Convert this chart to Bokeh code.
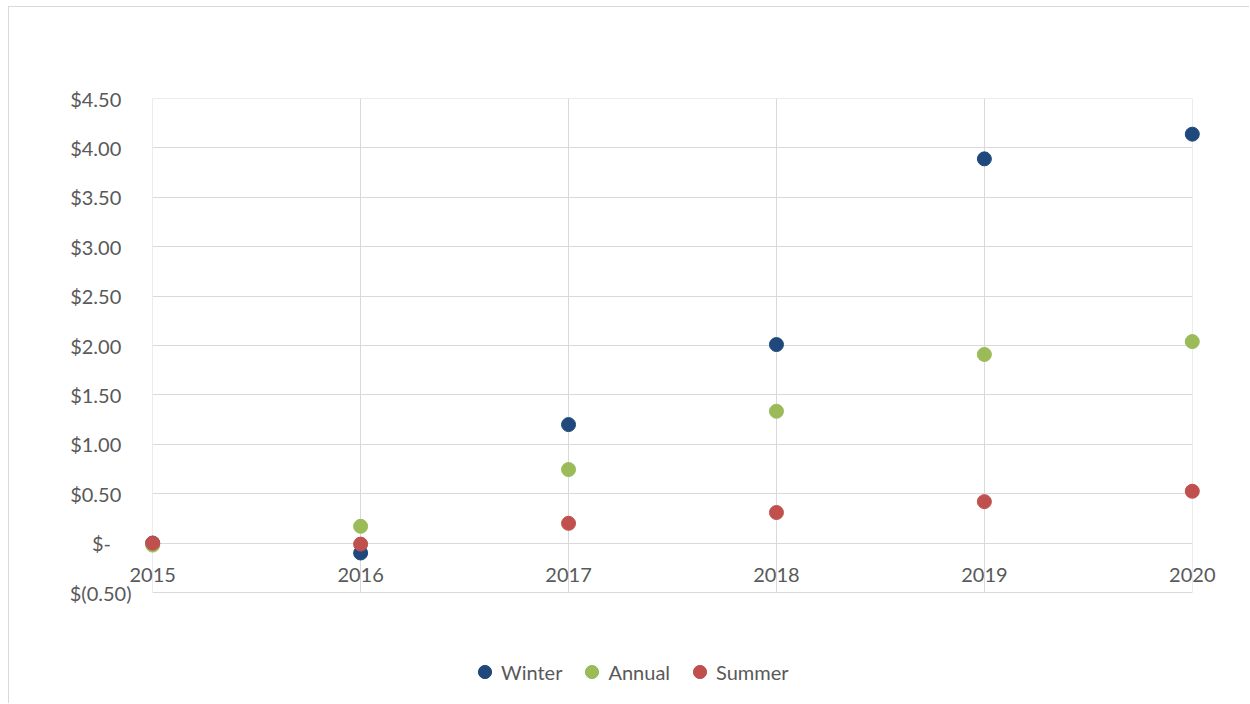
from bokeh.plotting import figure
from bokeh.models import Range1d, FixedTicker, ColumnDataSource, Legend, LegendItem
from bokeh.core.properties import value
from bokeh.embed import file_html
from bokeh.resources import INLINE

# ---- data ----
years = [2015, 2016, 2017, 2018, 2019, 2020]
x_tick_labels = ["2015", "2016", "2017", "2018", "2019", "2020"]
winter = [0.00, -0.10, 1.20, 2.01, 3.89, 4.14]
annual = [-0.02, 0.17, 0.745, 1.335, 1.91, 2.04]
summer = [0.00, -0.01, 0.20, 0.31, 0.42, 0.525]
y_ticks = [-0.5, 0.0, 0.5, 1.0, 1.5, 2.0, 2.5, 3.0, 3.5, 4.0, 4.5]
y_tick_labels = ["$(0.50)", "$-\u00a0\u00a0\u00a0\u00a0", "$0.50\u00a0\u00a0", "$1.00\u00a0\u00a0",
                 "$1.50\u00a0\u00a0", "$2.00\u00a0\u00a0", "$2.50\u00a0\u00a0", "$3.00\u00a0\u00a0",
                 "$3.50\u00a0\u00a0", "$4.00\u00a0\u00a0", "$4.50\u00a0\u00a0"]
series_names = ["Winter", "Annual", "Summer"]
series_colors = ["#1F497D", "#9BBB59", "#C0504D"]

FONT = "Lato"
TXT = "#595959"
GRID = "#d9d9d9"

# frame runs to the bottom of the canvas so the legend can sit inside it;
# vertical grid lines are bounded to the data area (-0.5 .. 4.5)
Y_LOW = -0.5 - 112 / 98.8
EPS = 0.001

p = figure(width=1241, height=697, output_backend="svg", toolbar_location=None,
           x_range=Range1d(2015 - EPS, 2020 + EPS), y_range=Range1d(Y_LOW, 4.5 + EPS),
           x_axis_location=None,
           min_border_left=143, min_border_right=58, min_border_top=91, min_border_bottom=0,
           background_fill_color="white", border_fill_color="white")
p.styles = {"margin-left": "8px", "margin-top": "6px",
            "border-left": "1px solid #d9d9d9", "border-top": "1px solid #d9d9d9"}
p.outline_line_color = None

p.xgrid.ticker = FixedTicker(ticks=years)
p.xgrid.cross_bounds = (y_ticks[0], y_ticks[-1])
p.ygrid.ticker = FixedTicker(ticks=y_ticks)
p.ygrid.cross_bounds = (years[0], years[-1])
p.xgrid.grid_line_color = GRID
p.ygrid.grid_line_color = GRID
p.xgrid.grid_line_width = 1
p.ygrid.grid_line_width = 1

ya = p.yaxis[0]
ya.ticker = FixedTicker(ticks=y_ticks)
ya.major_label_overrides = {t: l for t, l in zip(y_ticks, y_tick_labels)}
ya.axis_line_color = None
ya.major_tick_line_color = None
ya.minor_tick_line_color = None
ya.major_label_standoff = 15
ya.major_label_text_font = FONT
ya.major_label_text_font_size = "20px"
ya.major_label_text_color = TXT

renderers = []
for name, vals, col in zip(series_names, [winter, annual, summer], series_colors):
    src = ColumnDataSource(dict(x=years, y=vals))
    r = p.scatter("x", "y", source=src, size=14, fill_color=col, line_color=col, level="overlay")
    renderers.append(r)

lab_src = ColumnDataSource(dict(x=years, y=[0] * len(years), t=x_tick_labels))
p.text("x", "y", text="t", source=lab_src, text_align="center", text_baseline="middle",
       y_offset=32, text_font=value(FONT), text_font_size="20px", text_color=TXT,
       level="overlay")

legend = Legend(items=[LegendItem(label=n, renderers=[r]) for n, r in zip(series_names, renderers)],
                orientation="horizontal", location=(316, 16),
                glyph_width=33, glyph_height=33, label_standoff=0, spacing=13,
                padding=0, margin=0, border_line_color=None, background_fill_alpha=0,
                label_text_font=FONT, label_text_font_size="20px", label_text_color=TXT)
p.add_layout(legend, "center")

open("out.html", "w").write(file_html(p, INLINE))
